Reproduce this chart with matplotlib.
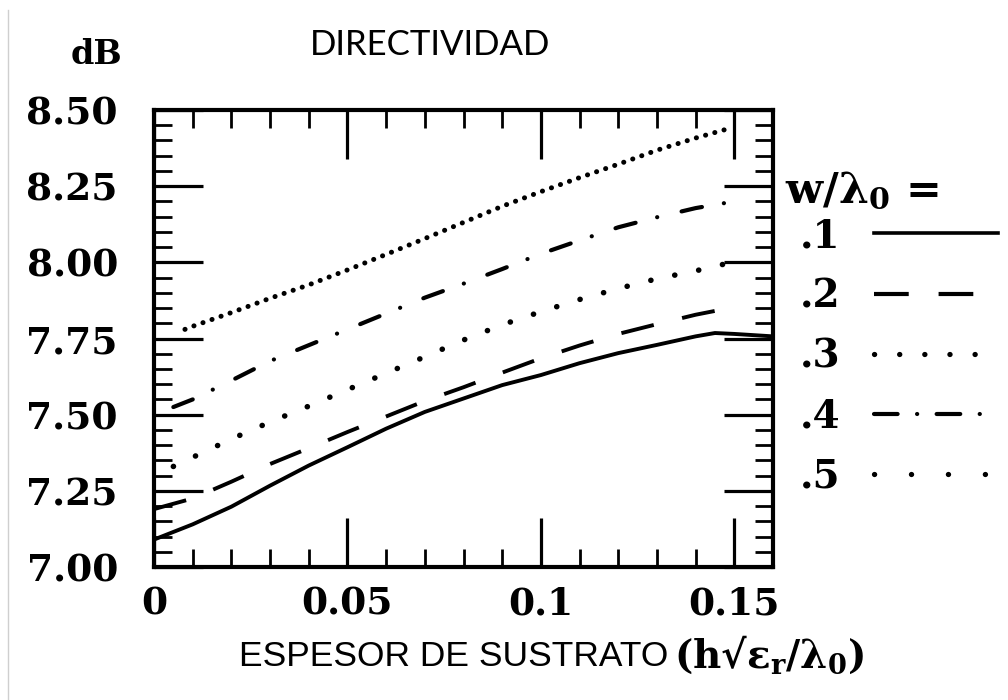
import matplotlib
matplotlib.use("Agg")
import matplotlib.pyplot as plt
from matplotlib.lines import Line2D
from matplotlib.ticker import MultipleLocator, FixedLocator, FixedFormatter

plt.rcParams["lines.scale_dashes"] = False
plt.rcParams["mathtext.fontset"] = "dejavuserif"

# curve data (x = h*sqrt(er)/lambda0, y = directivity in dB)
x_w1 = [0.0, 0.01, 0.02, 0.03, 0.04, 0.05, 0.06, 0.07, 0.08, 0.09, 0.10,
        0.11, 0.12, 0.13, 0.14, 0.145, 0.15, 0.16]
y_w1 = [7.09, 7.14, 7.198, 7.267, 7.333, 7.393, 7.454, 7.509, 7.553, 7.597,
        7.630, 7.669, 7.702, 7.729, 7.757, 7.768, 7.765, 7.757]

x_w2 = [0.0, 0.01, 0.02, 0.03, 0.04, 0.05, 0.06, 0.07, 0.08, 0.09, 0.10,
        0.11, 0.12, 0.13, 0.14, 0.15]
y_w2 = [7.19, 7.225, 7.28, 7.338, 7.39, 7.443, 7.494, 7.545, 7.590, 7.638,
        7.685, 7.727, 7.765, 7.797, 7.828, 7.853]

x_w3 = [0.005, 0.01, 0.02, 0.03, 0.04, 0.05, 0.06, 0.07, 0.08, 0.09, 0.10,
        0.11, 0.12, 0.13, 0.14, 0.147]
y_w3 = [7.33, 7.36, 7.42, 7.476, 7.528, 7.582, 7.636, 7.69, 7.745, 7.795,
        7.838, 7.878, 7.914, 7.946, 7.972, 7.993]

x_w4 = [0.005, 0.01, 0.02, 0.03, 0.04, 0.05, 0.06, 0.07, 0.08, 0.09, 0.10,
        0.11, 0.12, 0.13, 0.14, 0.15]
y_w4 = [7.525, 7.55, 7.612, 7.676, 7.728, 7.78, 7.832, 7.884, 7.93, 7.978,
        8.028, 8.072, 8.115, 8.148, 8.178, 8.2]

x_w5 = [0.008, 0.01, 0.02, 0.03, 0.04, 0.05, 0.06, 0.07, 0.08, 0.09, 0.10,
        0.11, 0.12, 0.13, 0.14, 0.148]
y_w5 = [7.78, 7.79, 7.835, 7.882, 7.926, 7.975, 8.026, 8.078, 8.131, 8.184,
        8.232, 8.278, 8.322, 8.368, 8.408, 8.437]

legend_labels = [".1", ".2", ".3", ".4", ".5"]
x_ticks = [0, 0.05, 0.1, 0.15]
x_tick_labels = ["0", "0.05", "0.1", "0.15"]
y_ticks = [7.00, 7.25, 7.50, 7.75, 8.00, 8.25, 8.50]

serif_bold = {"family": "DejaVu Serif", "weight": "bold"}

fig = plt.figure(figsize=(10.08, 7.0), dpi=100)
ax = fig.add_axes([154 / 1008, 1 - 567 / 700, 619 / 1008, 457 / 700])

ax.plot(x_w1, y_w1, color="black", lw=2.8, solid_capstyle="butt")
ax.plot(x_w2, y_w2, color="black", lw=2.8, dashes=(24, 21))
ax.plot(x_w3, y_w3, color="black", lw=4.0, dashes=(0.1, 17.5),
        dash_capstyle="round")
ax.plot(x_w4, y_w4, color="black", lw=3.0, dashes=(15, 16, 0.1, 18),
        dash_capstyle="round")
ax.plot(x_w5, y_w5, color="black", lw=3.6, dashes=(0.1, 6.8),
        dash_capstyle="round")

ax.set_xlim(0, 0.16)
ax.set_ylim(7.0, 8.5)
ax.xaxis.set_major_locator(FixedLocator(x_ticks))
ax.xaxis.set_major_formatter(FixedFormatter(x_tick_labels))
ax.xaxis.set_minor_locator(MultipleLocator(0.01))
ax.yaxis.set_major_locator(FixedLocator(y_ticks))
ax.yaxis.set_major_formatter(FixedFormatter([f"{v:.2f}" for v in y_ticks]))
ax.yaxis.set_minor_locator(MultipleLocator(0.05))

ax.tick_params(which="both", direction="in", top=True, right=True,
               color="black")
ax.tick_params(which="major", length=35, width=2.3)
ax.tick_params(which="minor", length=13, width=2.0)
ax.tick_params(axis="y", which="major", pad=26)
ax.tick_params(axis="x", which="major", pad=13)
for lab in ax.get_xticklabels() + ax.get_yticklabels():
    lab.set_fontfamily("DejaVu Serif")
    lab.set_fontweight("bold")
    lab.set_fontsize(27)
for sp in ax.spines.values():
    sp.set_linewidth(3.0)

# texts around the frame
fig.text(97 / 1008, 1 - 55 / 700, "dB", ha="center", va="center",
         fontsize=24, **serif_bold)
fig.text(430 / 1008, 1 - 45 / 700, "DIRECTIVIDAD", ha="center", va="center",
         fontsize=25, family="Lato")
fig.text(668 / 1008, 1 - 657 / 700, "ESPESOR DE SUSTRATO", ha="right",
         va="center", fontsize=25.5, family="Liberation Sans")
fig.text(674 / 1008, 1 - 655 / 700,
         r"$\mathbf{(h√\epsilon_r/\lambda_0)}$", ha="left",
         va="center", fontsize=28)

# legend: title as its own text, entries with label first, sample after
fig.text(785 / 1008, 1 - 190 / 700, r"$\mathbf{w/\lambda_0\,{=}}$",
         ha="left", va="center", fontsize=31)
handles = [
    Line2D([], [], color="black", lw=2.6),
    Line2D([], [], color="black", lw=3.0, dashes=(25, 21.5)),
    Line2D([], [], color="black", lw=3.8, dashes=(0.1, 18),
           dash_capstyle="round"),
    Line2D([], [], color="black", lw=3.0, dashes=(17, 14, 0.1, 14),
           dash_capstyle="round"),
    Line2D([], [], color="black", lw=3.8, dashes=(0.1, 26.5),
           dash_capstyle="round"),
]
leg = fig.legend(handles, legend_labels, loc="upper left",
                 bbox_to_anchor=(800 / 1008, 1 - 217 / 700),
                 bbox_transform=fig.transFigure, frameon=False,
                 markerfirst=False, borderpad=0, borderaxespad=0,
                 handlelength=3.2, handletextpad=0.85, labelspacing=0.57,
                 prop={"family": "DejaVu Serif", "weight": "bold", "size": 28})

# thin grey border line on the left edge of the scan
fig.add_artist(Line2D([8 / 1008, 8 / 1008], [0, 1 - 10 / 700],
                      transform=fig.transFigure, color="#cfcfcf", lw=1.0))

fig.savefig("out.png", dpi=100)
